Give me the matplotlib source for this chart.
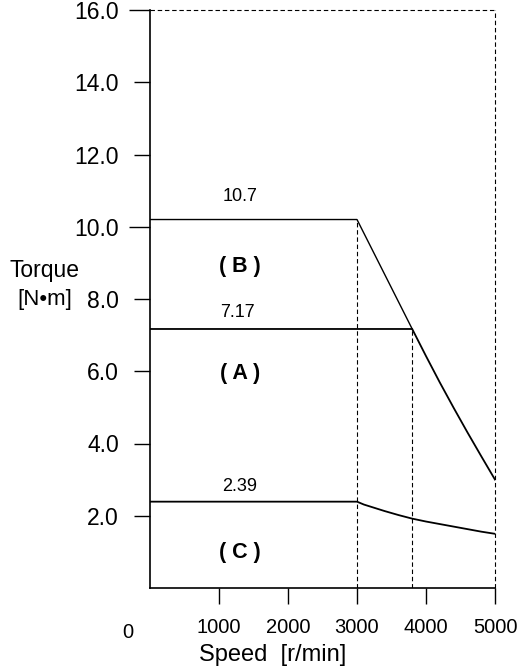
import matplotlib
matplotlib.use('Agg')
import matplotlib.pyplot as plt

plt.rcParams['font.family'] = ['Liberation Sans', 'DejaVu Sans']

# speed [r/min] / torque [N*m]
speed_b = [0, 3000, 3800]
torque_b = [10.2, 10.2, 7.17]

speed_a = [0, 3800, 4000, 4200, 4400, 4600, 4800, 5000]
torque_a = [7.17, 7.17, 6.42, 5.69, 4.99, 4.31, 3.65, 3.0]

speed_c = [0, 3000, 3100, 3200, 3400, 3600, 3800, 4000, 4200, 4400, 4600, 4800, 5000]
torque_c = [2.39, 2.39, 2.31, 2.25, 2.13, 2.02, 1.92, 1.84, 1.77, 1.70, 1.63, 1.56, 1.50]

x_ticks = [1000, 2000, 3000, 4000, 5000]
y_ticks = [2, 4, 6, 8, 10, 12, 14, 16]

# label text / where it goes
value_labels = ['10.7', '7.17', '2.39']
value_pos = [(1300, 10.85), (1260, 7.62), (1300, 2.8)]
region_labels = ['( B )', '( A )', '( C )']
region_pos = [(1300, 8.9), (1300, 5.95), (1300, 0.97)]

fig = plt.figure(figsize=(5.2, 6.72), dpi=100)
ax = fig.add_axes([150/520, 1-588/672, 345/520, 578/672])

ax.set_xlim(0, 5000)
ax.set_ylim(0, 16)

# dashed guide lines
dash = dict(color='black', lw=0.8, ls=(0, (4, 2.5)))
ax.plot([3000, 3000], [0, torque_b[1]], **dash)
ax.plot([3800, 3800], [0, torque_a[1]], **dash)
ax.plot([5000, 5000], [0, 16], **dash, clip_on=False)
ax.plot([0, 5000], [16, 16], **dash, clip_on=False)

ax.plot(speed_b, torque_b, color='black', lw=1.0)
ax.plot(speed_a, torque_a, color='black', lw=1.3)
ax.plot(speed_c, torque_c, color='black', lw=1.3)

for t, (x, y) in zip(value_labels, value_pos):
    ax.text(x, y, t, ha='center', va='center', fontsize=13)
for t, (x, y) in zip(region_labels, region_pos):
    ax.text(x, y, t, ha='center', va='center', fontsize=15.5, fontweight='bold')

ax.spines['top'].set_visible(False)
ax.spines['right'].set_visible(False)
ax.spines['left'].set_linewidth(1.2)
ax.spines['bottom'].set_linewidth(1.2)

ax.set_xticks(x_ticks)
ax.set_xticklabels([str(v) for v in x_ticks], fontsize=14.5)
ax.set_yticks(y_ticks)
ax.set_yticklabels(['%.1f' % v for v in y_ticks], fontsize=16.5)
ax.tick_params(axis='x', direction='out', length=11.5, width=1.0, pad=10)
ax.tick_params(axis='y', direction='out', length=11.5, width=1.0, pad=11)
# the 10.0 and 16.0 ticks are a bit longer
for i in (4, 7):
    ax.yaxis.get_major_ticks()[i].tick1line.set_markersize(15)

ax.text(-320, -1.22, '0', ha='center', va='center', fontsize=14.5)

fig.text(273/520, 1-655/672, 'Speed  [r/min]', ha='center', va='center', fontsize=17)
fig.text(45/520, 1-270/672, 'Torque', ha='center', va='center', fontsize=16.5)
fig.text(45/520, 1-300/672, '[N\u2022m]', ha='center', va='center', fontsize=16)

fig.savefig('out.png', dpi=100)
